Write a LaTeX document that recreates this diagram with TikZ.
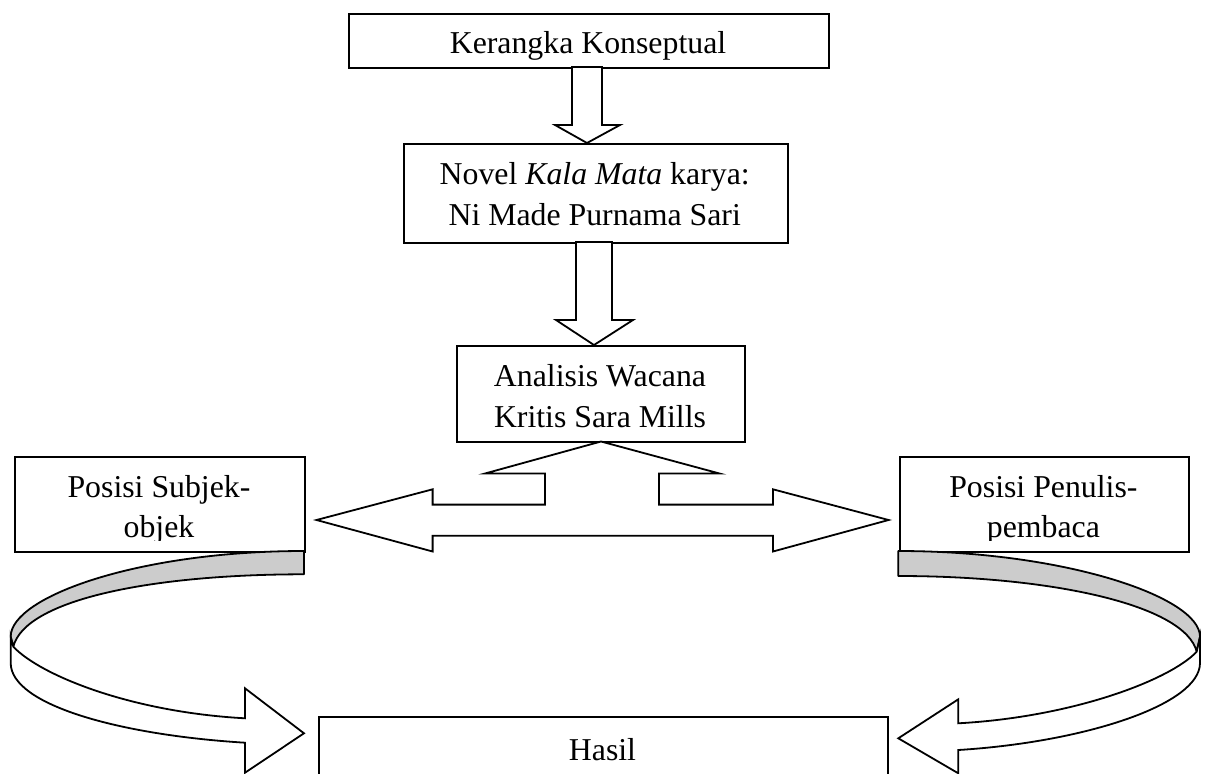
\documentclass[tikz,border=0pt]{standalone}
\usepackage{fontspec}
\setmainfont{Liberation Serif}
\begin{document}
\begin{tikzpicture}[x={(1pt,0pt)},y={(0pt,-1pt)},
  box/.style={draw,line width=2pt,rectangle,inner sep=0pt,anchor=north west,fill=white},
  txt/.style={anchor=base,inner sep=0pt,font=\fontsize{31.8}{40}\selectfont},
  blockarrow/.style={draw,line width=1.8pt,fill=white,line join=miter},
  backside/.style={draw,line width=1.8pt,fill=black!20,line join=round}]
\useasboundingbox (0,0) rectangle (1211,774);
% boxes
\node[box,minimum width=479.4pt,minimum height=54pt] (k) at (348.3,13) {};
\node[box,minimum width=384.3pt,minimum height=99pt] (n) at (402.7,143) {};
\node[box,minimum width=288.3pt,minimum height=96pt] (a) at (455.7,345.3) {};
\node[box,minimum width=290pt,minimum height=94.7pt] (ps) at (14,456) {};
\node[box,minimum width=289.3pt,minimum height=94.7pt] (pp) at (898.7,456) {};
\node[box,minimum width=568.3pt,minimum height=120pt] (h) at (318.4,716) {};
% texts
\node[txt] (tk) at (588,53.3) {Kerangka Konseptual};
\node[txt] (tn1) at (594.7,184) {Novel \textit{Kala Mata} karya:};
\node[txt] (tn2) at (594.7,225.7) {Ni Made Purnama Sari};
\node[txt] (ta1) at (600,386.5) {Analisis Wacana};
\node[txt] (ta2) at (600,427.5) {Kritis Sara Mills};
\node[txt] (tps1) at (159,497.3) {Posisi Subjek-};
\node[txt] (tpp1) at (1043.4,497.3) {Posisi Penulis-};
\begin{scope}
\clip (14,456) rectangle (1188,540);
\node[txt] (tps2) at (159,537.3) {objek};
\node[txt] (tpp2) at (1043.4,537.3) {pembaca};
\end{scope}
\node[txt] (th) at (602.5,760) {Hasil};
% vertical block arrows
\draw[blockarrow] (572,67) -- (572,125) -- (555,125) -- (587,143) -- (620,125) -- (602,125) -- (602,67) -- cycle;
\draw[blockarrow] (576,242) -- (576,320) -- (556,320) -- (594,345) -- (633,320) -- (612,320) -- (612,242) -- cycle;
% fork arrow
\draw[blockarrow] (601,441.5) -- (719.5,473.5) -- (659,473.5) -- (659,504.6) -- (773,504.6) -- (773,489.3)
  -- (888.6,520) -- (773,551.5) -- (773,535.7) -- (432.6,535.7) -- (432.6,551.5) -- (316.5,520)
  -- (432.6,489.3) -- (432.6,504.6) -- (545,504.6) -- (545,473.5) -- (485,473.5) -- cycle;
% left curved arrow
\draw[backside] (304,551) .. controls (139,551) and (10.7,596.7) .. (10.7,636.7)
  -- (13.3,646.7) .. controls (25,600) and (150,574.3) .. (304,574.3) -- cycle;
\draw[blockarrow] (10.7,636.7) -- (10.7,663) .. controls (10.7,705) and (120,735) .. (245,742.7)
  -- (245,772.7) -- (304,733.3) -- (245,688.3) -- (245,718.3)
  .. controls (130,712) and (40,675) .. (13.3,646.7) -- cycle;
% right curved arrow
\draw[backside] (898.3,551) .. controls (1063.3,551) and (1200,596.7) .. (1200,636.7)
  -- (1196.7,651.7) .. controls (1185,605) and (1052,576) .. (898.3,576) -- cycle;
\draw[blockarrow] (1200,636.7) -- (1200,663) .. controls (1200,705) and (1083,742.3) .. (958.3,750)
  -- (958.3,773.3) -- (898.3,738.3) -- (958.3,699.3) -- (958.3,723.3)
  .. controls (1073,717) and (1170,680) .. (1196.7,651.7) -- cycle;
\end{tikzpicture}
\end{document}
